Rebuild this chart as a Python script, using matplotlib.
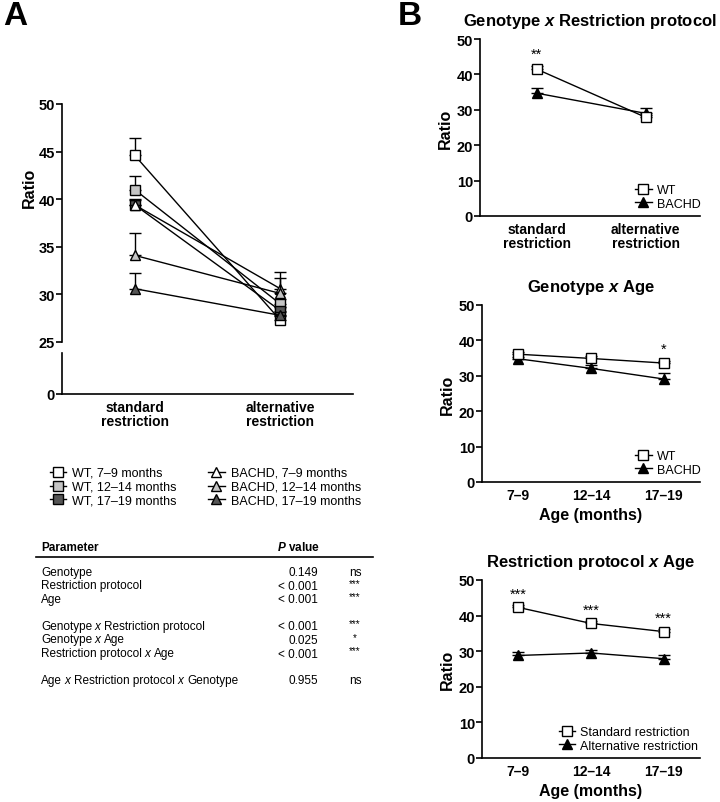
import matplotlib
matplotlib.use("Agg")
import matplotlib.pyplot as plt
from matplotlib.lines import Line2D
from matplotlib.text import Annotation
import numpy as np

plt.rcParams['font.family'] = ['Liberation Sans', 'DejaVu Sans']
plt.rcParams['mathtext.fontset'] = 'custom'
plt.rcParams['mathtext.it'] = 'Liberation Sans:italic'
plt.rcParams['mathtext.bf'] = 'Liberation Sans:italic:bold'
plt.rcParams['mathtext.rm'] = 'Liberation Sans'

# ---- data ----
protocols = ['standard\nrestriction', 'alternative\nrestriction']
ages = ['7\u20139', '12\u201314', '17\u201319']

# panel A: group means (standard, alternative) and upper error
a_labels = ['WT, 7\u20139 months', 'WT, 12\u201314 months', 'WT, 17\u201319 months',
            'BACHD, 7\u20139 months', 'BACHD, 12\u201314 months', 'BACHD, 17\u201319 months']
a_std = [44.6, 41.0, 39.4, 39.4, 34.1, 30.6]
a_std_err = [1.8, 1.4, 0.6, 0.5, 2.4, 1.6]
a_alt = [27.3, 29.0, 28.3, 30.6, 30.1, 27.8]
a_alt_err = [0.4, 0.5, 0.4, 1.8, 1.6, 0.4]

# panel B1: genotype x restriction protocol
b1_wt = [41.5, 27.9]
b1_wt_err = [0.8, 0.6]
b1_bachd = [34.7, 29.0]
b1_bachd_err = [1.5, 1.6]

# panel B2: genotype x age
b2_wt = [36.1, 34.9, 33.6]
b2_wt_err = [0.6, 0.6, 0.6]
b2_bachd = [34.8, 32.1, 29.1]
b2_bachd_err = [0.6, 1.0, 1.6]

# panel B3: restriction protocol x age
b3_std = [42.3, 37.8, 35.5]
b3_std_err = [0.6, 0.6, 0.6]
b3_alt = [28.8, 29.5, 27.9]
b3_alt_err = [1.1, 0.8, 0.9]

# ANOVA table
params = ['Genotype', 'Restriction protocol', 'Age',
          'Genotype x Restriction protocol', 'Genotype x Age',
          'Restriction protocol x Age',
          'Age x Restriction protocol x Genotype']
pvals = ['0.149', '< 0.001', '< 0.001', '< 0.001', '0.025', '< 0.001', '0.955']
signif = ['ns', '***', '***', '***', '*', '***', 'ns']
groups = [0, 0, 0, 1, 1, 1, 2]

light = '#c4c4c4'
dark = '#555555'
a_faces = ['white', light, dark, 'white', light, dark]
a_markers = ['s', 's', 's', '^', '^', '^']

W, H = 720, 803
fig = plt.figure(figsize=(W / 100, H / 100), dpi=100)


def px_axes(left, top, right, bottom):
    return fig.add_axes([left / W, 1 - bottom / H, (right - left) / W, (bottom - top) / H])


def style(ax):
    for s in ['top', 'right']:
        ax.spines[s].set_visible(False)
    for s in ['left', 'bottom']:
        ax.spines[s].set_linewidth(1.2)
    ax.tick_params(axis='y', direction='out', length=4, width=1.2, labelsize=10.5, pad=1)
    ax.tick_params(axis='x', length=0, labelsize=10, pad=4)
    for lab in ax.get_xticklabels() + ax.get_yticklabels():
        lab.set_fontweight('bold')


def series(ax, x, y, err, marker, face, ms=7, z=3):
    ax.errorbar(x, y, yerr=[np.zeros(len(err)), err], fmt='none', ecolor='black',
                elinewidth=1, capsize=4, capthick=1, zorder=z - 1, clip_on=False)
    ax.plot(x, y, color='black', lw=1, marker=marker, ms=ms, mfc=face, mec='black',
            mew=1, zorder=z, clip_on=False)


def key(marker, face):
    return Line2D([], [], color='black', lw=1, marker=marker, ms=7, mfc=face, mec='black')


def param_text(x, y, label, size):
    # plain text with an italic "x" between the factor names
    pieces = label.split(' x ')
    t = fig.text(x, y, pieces[0], fontsize=size, va='bottom')
    for p in pieces[1:]:
        t = Annotation('x', xy=(1, 0), xycoords=t, xytext=(size * 0.2, 0),
                       textcoords='offset points', fontsize=size, style='italic',
                       va='bottom', ha='left')
        fig.add_artist(t)
        t = Annotation(p, xy=(1, 0), xycoords=t, xytext=(size * 0.34, 0),
                       textcoords='offset points', fontsize=size, va='bottom', ha='left')
        fig.add_artist(t)


# ---- panel A ----
axA = px_axes(62, 105, 353, 343)
axA0 = px_axes(62, 354, 353, 395)
xa = np.arange(len(protocols))
for i in range(len(a_labels)):
    series(axA, xa, [a_std[i], a_alt[i]], [a_std_err[i], a_alt_err[i]],
           a_markers[i], a_faces[i], ms=7.5, z=3 + i)
axA.set_xlim(-0.5, 1.5)
axA.set_ylim(25, 50)
axA.set_yticks([25, 30, 35, 40, 45, 50])
axA.spines['bottom'].set_visible(False)
axA.set_xticks([])
style(axA)
axA.set_ylabel('Ratio', fontsize=11.5, fontweight='bold')
axA.yaxis.set_label_coords(-0.085, 0.65)

axA0.set_xlim(-0.5, 1.5)
axA0.set_ylim(0, 1)
axA0.set_yticks([0])
axA0.set_xticks(xa)
axA0.set_xticklabels(protocols, linespacing=1.0)
style(axA0)

fig.text(3 / W, 1 - 25 / H, 'A', fontsize=24, fontweight='bold')
fig.text(398 / W, 1 - 25 / H, 'B', fontsize=24, fontweight='bold')

fig.legend([key(m, f) for m, f in zip(a_markers, a_faces)], a_labels, ncol=2,
           loc='upper left', bbox_to_anchor=(50 / W, 1 - 468 / H),
           frameon=False, fontsize=9, handlelength=1.3, handletextpad=0.5,
           labelspacing=0.15, columnspacing=2.5, borderaxespad=0, borderpad=0)

# ---- ANOVA table ----
fig.text(41 / W, 1 - 548 / H, 'Parameter', fontsize=8.5, fontweight='bold', va='center')
fig.text(320 / W, 1 - 548 / H, r'$\mathbf{P}$ value', fontsize=8.5, fontweight='bold',
         va='center', ha='right')
fig.add_artist(Line2D([36 / W, 373 / W], [1 - 558 / H, 1 - 558 / H], color='black', lw=1.2))
for i, (p, v, s) in enumerate(zip(params, pvals, signif)):
    ypx = 573.5 + 13.5 * (i + groups[i])
    yy = 1 - ypx / H
    param_text(41 / W, 1 - (ypx + 5.5) / H, p, 8.5)
    fig.text(318 / W, yy, v, fontsize=8.5, va='center', ha='right')
    fig.text(355 / W, yy, s, fontsize=8.5 if s == 'ns' else 7,
             va='center' if s == 'ns' else 'baseline', ha='center')

# ---- panel B1 ----
ax1 = px_axes(480, 40, 700, 217)
x1 = np.arange(len(protocols))
series(ax1, x1, b1_wt, b1_wt_err, 's', 'white', z=4)
series(ax1, x1, b1_bachd, b1_bachd_err, '^', 'black', z=3)
ax1.set_xlim(-0.52, 1.5)
ax1.set_ylim(0, 50)
ax1.set_xticks(x1)
ax1.set_xticklabels(protocols, linespacing=1.0)
style(ax1)
ax1.set_ylabel('Ratio', fontsize=11.5, fontweight='bold', labelpad=3)
ax1.set_title('Genotype $\\mathbf{x}$ Restriction protocol', fontsize=12,
              fontweight='bold', pad=10)
ax1.text(0, b1_wt[0] + 2.4, '**', ha='center', va='bottom', fontsize=10.5)
ax1.legend([key('s', 'white'), key('^', 'black')], ['WT', 'BACHD'], loc='lower right',
           bbox_to_anchor=(1.03, 0.0), frameon=False, fontsize=9, handlelength=1.3,
           handletextpad=0.4, labelspacing=0.1, borderaxespad=0.1)

# ---- panel B2 ----
ax2 = px_axes(482, 306, 700, 483)
x2 = np.arange(len(ages))
series(ax2, x2, b2_wt, b2_wt_err, 's', 'white', z=4)
series(ax2, x2, b2_bachd, b2_bachd_err, '^', 'black', z=3)
ax2.set_xlim(-0.5, 2.5)
ax2.set_ylim(0, 50)
ax2.set_xticks(x2)
ax2.set_xticklabels(ages)
style(ax2)
ax2.set_ylabel('Ratio', fontsize=11.5, fontweight='bold', labelpad=3)
ax2.set_xlabel('Age (months)', fontsize=11.5, fontweight='bold', labelpad=4)
ax2.set_title('Genotype $\\mathbf{x}$ Age', fontsize=12, fontweight='bold', pad=10)
ax2.text(2, b2_wt[2] + 2.0, '*', ha='center', va='bottom', fontsize=10.5)
ax2.legend([key('s', 'white'), key('^', 'black')], ['WT', 'BACHD'], loc='lower right',
           bbox_to_anchor=(1.03, 0.0), frameon=False, fontsize=9, handlelength=1.3,
           handletextpad=0.4, labelspacing=0.1, borderaxespad=0.1)

# ---- panel B3 ----
ax3 = px_axes(482, 581, 700, 759)
series(ax3, x2, b3_std, b3_std_err, 's', 'white', z=4)
series(ax3, x2, b3_alt, b3_alt_err, '^', 'black', z=3)
ax3.set_xlim(-0.5, 2.5)
ax3.set_ylim(0, 50)
ax3.set_xticks(x2)
ax3.set_xticklabels(ages)
style(ax3)
ax3.set_ylabel('Ratio', fontsize=11.5, fontweight='bold', labelpad=3)
ax3.set_xlabel('Age (months)', fontsize=11.5, fontweight='bold', labelpad=4)
ax3.set_title('Restriction protocol $\\mathbf{x}$ Age', fontsize=12, fontweight='bold', pad=10)
for xi, yi in zip(x2, b3_std):
    ax3.text(xi, yi + 2.0, '***', ha='center', va='bottom', fontsize=10.5)
ax3.legend([key('s', 'white'), key('^', 'black')],
           ['Standard restriction', 'Alternative restriction'], loc='lower right',
           bbox_to_anchor=(1.02, 0.0), frameon=False, fontsize=9, handlelength=1.3,
           handletextpad=0.4, labelspacing=0.1, borderaxespad=0.1)

fig.savefig('out.png', dpi=100)
